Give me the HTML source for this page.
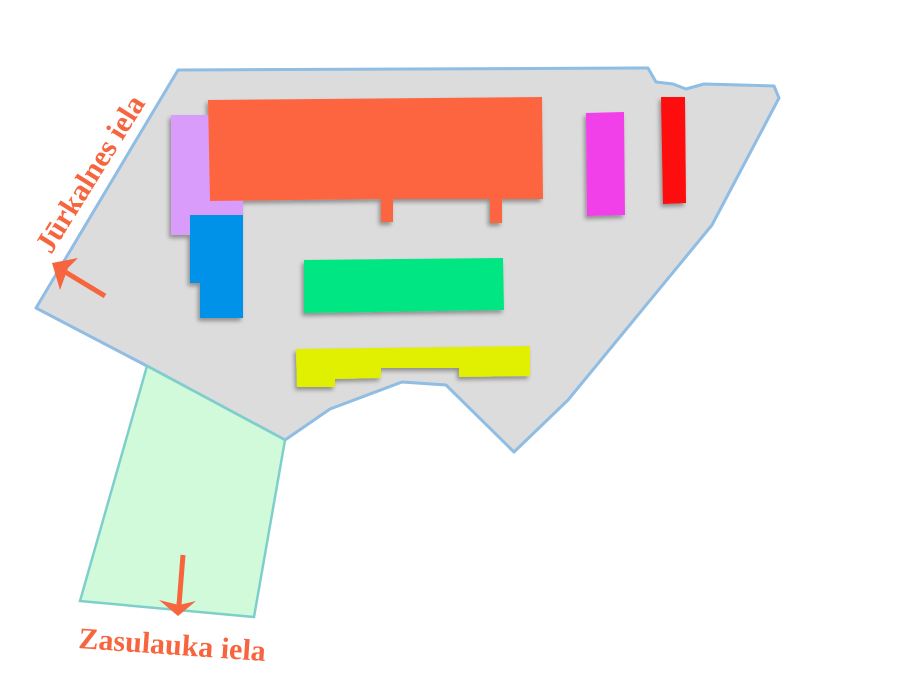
<!DOCTYPE html>
<html><head><meta charset="utf-8"><style>
html,body{margin:0;padding:0;background:#fff;}
svg{display:block;}
text{font-family:"Liberation Serif",serif;font-weight:bold;fill:#f7653f;}
</style></head><body>
<svg width="900" height="700" viewBox="0 0 900 700" xmlns="http://www.w3.org/2000/svg">
<defs>
<filter id="sh" x="-20%" y="-20%" width="140%" height="140%"><feDropShadow dx="-2" dy="3" stdDeviation="2" flood-color="#000" flood-opacity="0.35"/></filter>
</defs>
<polygon points="178,70 648,68 656,82 673,84 686,89 704,84 774,86 779,98 712,225 568,400 514,452 446,385 402,382 330,409 285,440 147,366 36,308" fill="#dcdcdc" stroke="#8fbde3" stroke-width="3" stroke-linejoin="round"/>
<polygon points="147,366 285,440 254,617 80,601" fill="#d1fadb" stroke="#7ecfcb" stroke-width="2.5"/>
<g filter="url(#sh)">
<rect x="171" y="115" width="72" height="120" fill="#da9cfa"/>
<polygon points="208,100 542,97 543,199 502,199 502,223 490,223 490,199 393,199 393,222 381,222 381,199 210,201" fill="#fd6540"/>
<polygon points="190,215 243,215 243,318 200,318 200,283 190,283" fill="#0092e8"/>
<polygon points="304,260 503,258 504,310 304,313" fill="#00e682"/>
<polygon points="296,349 530,346 530,376 459,377 459,368 381,368 381,378 335,379 335,387 297,387" fill="#e1ef00"/>
<polygon points="586,113 624,112 625,215 587,216" fill="#f140ea"/>
<polygon points="661,97 685,97 686,203 663,204" fill="#fd0a0a"/>
</g>
<line x1="105" y1="296" x2="62" y2="270" stroke="#f7653f" stroke-width="5"/>
<polygon points="52,263 78,258 68,268 60,290" fill="#f7653f"/>
<line x1="183" y1="555" x2="179" y2="605" stroke="#f7653f" stroke-width="5"/>
<polygon points="159,600 179,605 196,601 178,616" fill="#f7653f"/>
<text x="0" y="0" font-size="30" transform="translate(51,255) rotate(-58)">Jūrkalnes iela</text>
<text x="0" y="0" font-size="30" transform="translate(78,648) rotate(4)">Zasulauka iela</text>
</svg>
</body></html>
